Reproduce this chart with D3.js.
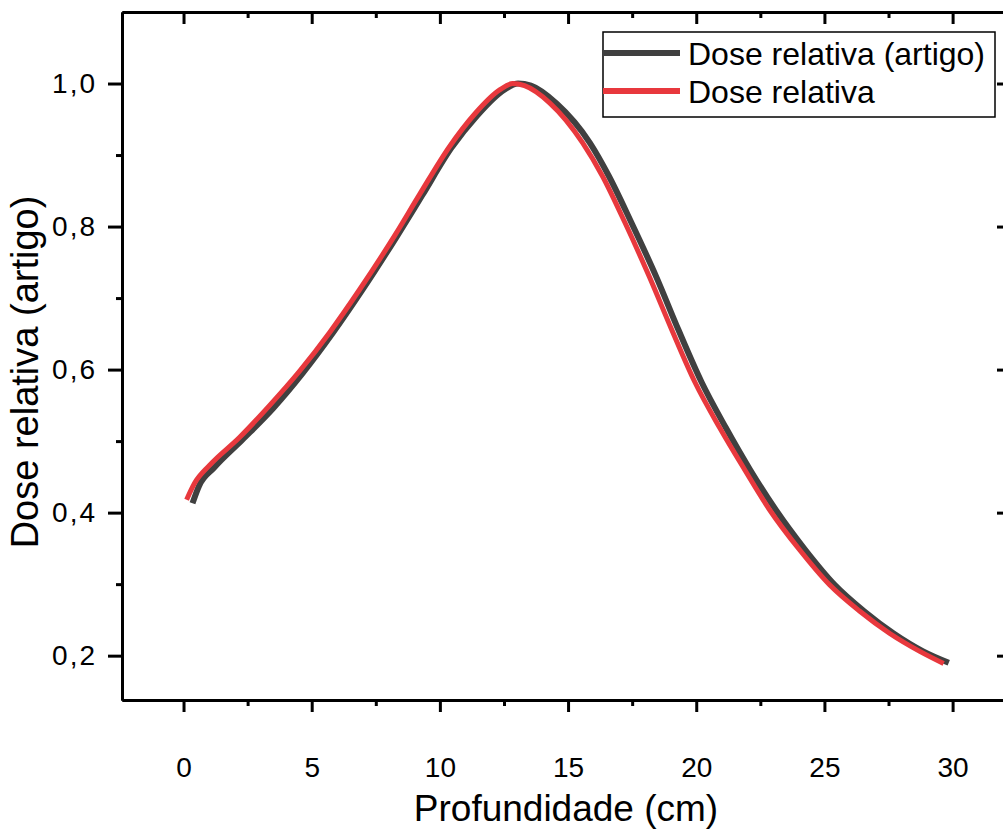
<!doctype html>
<html lang="pt">
<head>
  <meta charset="utf-8">
  <style>
    body { margin: 0; background: #fff; }
    svg text { font-family: "Liberation Sans", Arial, sans-serif; fill: #000; }
  </style>
</head>
<body>
  <script src="https://d3js.org/d3.v7.min.js"></script>
  <div id="chart"></div>
  <script>
    // Dose relativa (artigo) - curva cinza
    var depthArtigo = [0.35, 0.6, 1.2, 2.3, 3.5, 4.65, 5.8, 6.95, 8.3, 9.3, 10.45, 11.45, 12.5, 13.05, 13.55,
                       14.55, 15.85, 16.6, 17.45, 18.45, 19.3, 20.2, 21.15, 22.1, 23.1, 24.25, 25.4, 26.55, 27.7, 28.85, 29.85];
    var doseArtigo  = [0.413, 0.437, 0.463, 0.502, 0.546, 0.595, 0.650, 0.710, 0.785, 0.843, 0.910, 0.955, 0.991, 1.0, 0.997,
                       0.972, 0.917, 0.870, 0.807, 0.729, 0.656, 0.583, 0.519, 0.460, 0.404, 0.348, 0.299, 0.262, 0.231, 0.206, 0.190];

    // Dose relativa (calculada) - curva vermelha
    var depthCalc = [0.12, 0.43, 1.01, 2.18, 3.36, 4.53, 5.7, 6.87, 8.23, 9.21, 10.38, 11.35, 12.33, 12.84, 13.3,
                     14.28, 15.57, 16.35, 17.2, 18.18, 19.04, 19.94, 20.91, 21.89, 22.86, 24.03, 25.2, 26.38, 27.55, 28.72, 29.65];
    var doseCalc  = [0.418, 0.441, 0.466, 0.505, 0.550, 0.598, 0.652, 0.712, 0.787, 0.845, 0.912, 0.957, 0.991, 1.0, 0.997,
                     0.973, 0.917, 0.870, 0.807, 0.729, 0.656, 0.583, 0.519, 0.460, 0.404, 0.348, 0.299, 0.262, 0.231, 0.206, 0.189];

    var xMajor = [0, 5, 10, 15, 20, 25, 30];
    var xMinor = [2.5, 7.5, 12.5, 17.5, 22.5, 27.5];
    var yMajor = [0.2, 0.4, 0.6, 0.8, 1.0];
    var yMinor = [0.3, 0.5, 0.7, 0.9];
    var seriesNames = ["Dose relativa (artigo)", "Dose relativa"];
    var seriesColors = ["#404040", "#e8383d"];

    var width = 1003, height = 839;
    var plot = {left: 122, right: 1009, top: 12, bottom: 700};

    var svg = d3.select("#chart").append("svg")
                .attr("width", width)
                .attr("height", height);

    var x = d3.scaleLinear().domain([-2.4, 32.2]).range([plot.left, plot.right]);
    var y = d3.scaleLinear().domain([0.138, 1.1]).range([plot.bottom, plot.top]);

    var fmt = function(d) { return d3.format(".1f")(d).replace(".", ","); };

    function styleAxis(g) {
      g.attr("font-size", 28).attr("font-family", "Liberation Sans, Arial, sans-serif");
      g.select(".domain").attr("stroke", "#000").attr("stroke-width", 3);
      g.selectAll(".tick line").attr("stroke", "#000").attr("stroke-width", 3);
      g.selectAll(".tick text").attr("fill", "#000");
    }

    // bottom axis
    svg.append("g").attr("transform", "translate(0," + plot.bottom + ")")
       .call(d3.axisBottom(x).tickValues(xMinor).tickSize(6).tickSizeOuter(0).tickFormat(""))
       .call(styleAxis);
    svg.append("g").attr("transform", "translate(0," + plot.bottom + ")")
       .call(d3.axisBottom(x).tickValues(xMajor).tickSize(12).tickSizeOuter(0).tickPadding(45).tickFormat(d3.format("d")))
       .call(styleAxis);
    // top axis (ticks inward)
    svg.append("g").attr("transform", "translate(0," + plot.top + ")")
       .call(d3.axisTop(x).tickValues(xMinor).tickSize(-6).tickSizeOuter(0).tickFormat(""))
       .call(styleAxis);
    svg.append("g").attr("transform", "translate(0," + plot.top + ")")
       .call(d3.axisTop(x).tickValues(xMajor).tickSize(-12).tickSizeOuter(0).tickFormat(""))
       .call(styleAxis);
    // left axis
    svg.append("g").attr("transform", "translate(" + plot.left + ",0)")
       .call(d3.axisLeft(y).tickValues(yMinor).tickSize(6).tickSizeOuter(0).tickFormat(""))
       .call(styleAxis);
    svg.append("g").attr("transform", "translate(" + plot.left + ",0)")
       .call(d3.axisLeft(y).tickValues(yMajor).tickSize(14).tickSizeOuter(0).tickPadding(11).tickFormat(fmt))
       .call(styleAxis)
       .call(function(g) { g.selectAll(".tick text").attr("letter-spacing", 2); });
    // right axis (ticks inward)
    svg.append("g").attr("transform", "translate(" + plot.right + ",0)")
       .call(d3.axisRight(y).tickValues(yMinor).tickSize(-6).tickSizeOuter(0).tickFormat(""))
       .call(styleAxis);
    svg.append("g").attr("transform", "translate(" + plot.right + ",0)")
       .call(d3.axisRight(y).tickValues(yMajor).tickSize(-12).tickSizeOuter(0).tickFormat(""))
       .call(styleAxis);

    // axis titles
    svg.append("text")
       .attr("x", 566).attr("y", 821)
       .attr("text-anchor", "middle")
       .attr("font-size", 37)
       .text("Profundidade (cm)");
    svg.append("text")
       .attr("transform", "translate(38,372) rotate(-90)")
       .attr("text-anchor", "middle")
       .attr("font-size", 38)
       .text("Dose relativa (artigo)");

    // curves
    var line = d3.line()
                 .x(function(d) { return x(d[0]); })
                 .y(function(d) { return y(d[1]); })
                 .curve(d3.curveMonotoneX);

    var artigo = depthArtigo.map(function(d, i) { return [d, doseArtigo[i]]; });
    var calc = depthCalc.map(function(d, i) { return [d, doseCalc[i]]; });

    svg.append("path").datum(artigo)
       .attr("d", line)
       .attr("fill", "none")
       .attr("stroke", seriesColors[0])
       .attr("stroke-width", 6);
    svg.append("path").datum(calc)
       .attr("d", line)
       .attr("fill", "none")
       .attr("stroke", seriesColors[1])
       .attr("stroke-width", 5);

    // legend
    var lg = svg.append("g");
    lg.append("rect")
      .attr("x", 603).attr("y", 32)
      .attr("width", 392).attr("height", 85)
      .attr("fill", "#fff")
      .attr("stroke", "#000")
      .attr("stroke-width", 1.5);
    seriesNames.forEach(function(name, i) {
      var ly = 53 + i * 38;
      lg.append("line")
        .attr("x1", 603).attr("x2", 680)
        .attr("y1", ly).attr("y2", ly)
        .attr("stroke", seriesColors[i])
        .attr("stroke-width", 6);
      lg.append("text")
        .attr("x", 688).attr("y", ly + 12)
        .attr("font-size", 32)
        .text(name);
    });
  </script>
</body>
</html>
